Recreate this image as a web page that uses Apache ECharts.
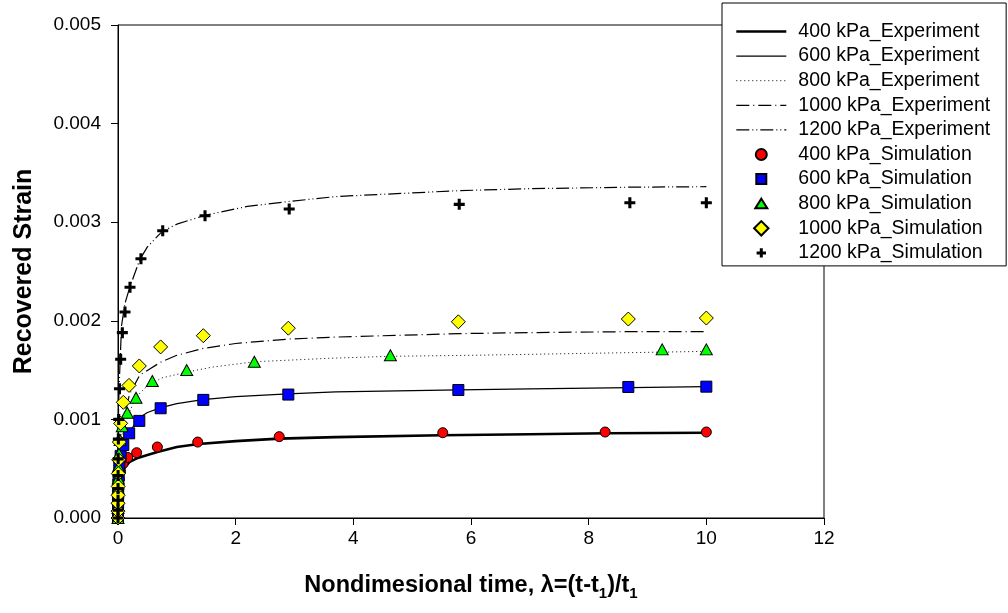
<!DOCTYPE html>
<html>
<head>
<meta charset="utf-8">
<script src="https://cdn.jsdelivr.net/npm/echarts@6/dist/echarts.min.js"></script>
<style>
html,body{margin:0;padding:0;background:#fff;}
#chart{width:1008px;height:613px;}
</style>
</head>
<body>
<div id="chart"></div>
<script>
// ---- Data ----
const xTicks = [0, 2, 4, 6, 8, 10, 12];
const yTicks = [0.000, 0.001, 0.002, 0.003, 0.004, 0.005];

const seriesNames = [
  '400 kPa_Experiment', '600 kPa_Experiment', '800 kPa_Experiment',
  '1000 kPa_Experiment', '1200 kPa_Experiment',
  '400 kPa_Simulation', '600 kPa_Simulation', '800 kPa_Simulation',
  '1000 kPa_Simulation', '1200 kPa_Simulation'
];

// Experiment curves
const exp400X = [0, 0.003, 0.01, 0.03, 0.06, 0.12, 0.2, 0.32, 0.5, 0.67, 1.0, 1.37, 2.0, 2.74, 3.7, 5.5, 7.0, 8.3, 10];
const exp400Y = [0, 0.00018, 0.00028, 0.00038, 0.00045, 0.00052, 0.00057, 0.000605, 0.00064, 0.00067, 0.00072, 0.00075, 0.00078, 0.000805, 0.00082, 0.00084, 0.00085, 0.00086, 0.000865];

const exp600X = [0, 0.003, 0.01, 0.03, 0.06, 0.1, 0.19, 0.37, 0.5, 0.73, 1.0, 1.44, 2.0, 2.89, 3.7, 5.8, 7.0, 8.7, 10];
const exp600Y = [0, 0.00025, 0.0004, 0.00055, 0.00066, 0.00075, 0.00087, 0.00102, 0.00107, 0.00112, 0.00116, 0.0012, 0.00123, 0.001258, 0.00128, 0.0013, 0.00131, 0.001322, 0.001332];

const exp800X = [0, 0.003, 0.01, 0.03, 0.06, 0.1, 0.18, 0.3, 0.46, 0.74, 1.17, 1.6, 2.33, 3.6, 4.63, 6, 8, 10];
const exp800Y = [0, 0.0003, 0.00048, 0.00065, 0.00078, 0.0009, 0.00105, 0.00122, 0.00132, 0.00142, 0.00148, 0.00153, 0.001585, 0.00162, 0.00164, 0.00165, 0.00167, 0.00169];

const exp1000X = [0, 0.003, 0.01, 0.03, 0.06, 0.1, 0.2, 0.37, 0.74, 1.0, 1.45, 2.0, 2.9, 3.7, 5.8, 7.0, 8.7, 10];
const exp1000Y = [0, 0.00033, 0.00053, 0.00074, 0.0009, 0.00104, 0.00126, 0.00145, 0.001585, 0.00165, 0.00172, 0.00177, 0.001815, 0.001835, 0.00187, 0.00188, 0.00189, 0.00189];

const exp1200X = [0, 0.002, 0.005, 0.01, 0.02, 0.03, 0.06, 0.12, 0.2, 0.37, 0.5, 0.74, 1.0, 1.48, 2.2, 2.9, 3.7, 5.8, 7.0, 8.7, 10];
const exp1200Y = [0, 0.0006, 0.0009, 0.00113, 0.00133, 0.0015, 0.00195, 0.00218, 0.00234, 0.00262, 0.00275, 0.0029, 0.00298, 0.00307, 0.00316, 0.00321, 0.00326, 0.00332, 0.00334, 0.003355, 0.00336];

// Simulation points
const sim400X = [0, 0.0007, 0.0013, 0.0027, 0.0054, 0.011, 0.0215, 0.043, 0.086, 0.165, 0.317, 0.669, 1.355, 2.74, 5.52, 8.28, 10];
const sim400Y = [0, 0.00007, 0.00013, 0.0002, 0.00026, 0.00033, 0.0004, 0.00047, 0.00055, 0.000614, 0.000662, 0.00072, 0.00077, 0.000825, 0.000865, 0.000872, 0.000872];

const sim600X = [0, 0.0007, 0.0014, 0.0028, 0.0056, 0.011, 0.022, 0.045, 0.09, 0.19, 0.362, 0.725, 1.45, 2.895, 5.785, 8.674, 10];
const sim600Y = [0, 0.00008, 0.00016, 0.00025, 0.00034, 0.00043, 0.00053, 0.00063, 0.00074, 0.000859, 0.000985, 0.001113, 0.001198, 0.001252, 0.001298, 0.001329, 0.001332];

const sim800X = [0, 0.0005, 0.001, 0.002, 0.0045, 0.009, 0.018, 0.036, 0.072, 0.158, 0.306, 0.583, 1.168, 2.317, 4.63, 9.25, 10];
const sim800Y = [0, 0.0001, 0.0002, 0.0003, 0.0004, 0.00052, 0.00065, 0.00079, 0.00093, 0.001068, 0.00122, 0.00139, 0.0015, 0.001585, 0.00165, 0.00171, 0.00171];

const sim1000X = [0, 0.00035, 0.0007, 0.0014, 0.0028, 0.0056, 0.011, 0.0225, 0.045, 0.09, 0.187, 0.362, 0.725, 1.45, 2.895, 5.785, 8.674, 10];
const sim1000Y = [0, 0.00007, 0.00015, 0.00023, 0.00032, 0.00045, 0.00059, 0.00077, 0.00096, 0.001173, 0.001345, 0.001542, 0.001735, 0.001849, 0.001925, 0.00199, 0.002018, 0.002028];

const sim1200X = [0, 0.0002, 0.0004, 0.0008, 0.0015, 0.003, 0.006, 0.012, 0.025, 0.045, 0.074, 0.119, 0.204, 0.39, 0.76, 1.479, 2.91, 5.8, 8.7, 10];
const sim1200Y = [0, 0.00008, 0.00018, 0.0003, 0.00043, 0.0006, 0.0008, 0.001, 0.00131, 0.00161, 0.00188, 0.00209, 0.00234, 0.00263, 0.002914, 0.003066, 0.003134, 0.003181, 0.003198, 0.003198];

// ---- Build chart ----
function pairs(xs, ys) { return xs.map((x, i) => [x, ys[i]]); }

const FONT = 'Arial, "Liberation Sans", sans-serif';
const PLUS = 'path://M3.6,0H6.4V3.6H10V6.4H6.4V10H3.6V6.4H0V3.6H3.6Z';

// legend icons drawn inside a 15x15 box (extent points keep the box size)
const ICON_CIRCLE = 'path://M0,0M15,15M13,7.5A5.5,5.5,0,1,1,2,7.5A5.5,5.5,0,1,1,13,7.5Z';
const ICON_SQUARE = 'path://M0,0M15,15M2.5,2.5H12.5V12.5H2.5Z';
const ICON_TRI = 'path://M0,0M15,15M7.5,2.5L13.5,12L1.5,12Z';
const ICON_DIAMOND = 'path://M0,0M15,15M7.5,0.3L14.7,7.5L7.5,14.7L0.3,7.5Z';
const ICON_PLUS = 'path://M0,0M15,15M6,2.8H9V6H12.2V9H9V12.2H6V9H2.8V6H6Z';

function expSeries(name, xs, ys, width, type) {
  return {
    name: name, type: 'line', data: pairs(xs, ys),
    symbol: 'none', smooth: false, silent: true, z: 2,
    itemStyle: { color: 'rgba(0,0,0,0)', borderWidth: 0 },
    lineStyle: { color: '#000', width: width, type: type }
  };
}
function simSeries(name, xs, ys, symbol, size, color, border) {
  return {
    name: name, type: 'scatter', data: pairs(xs, ys),
    symbol: symbol, symbolSize: size, symbolKeepAspect: true, z: 3,
    itemStyle: { color: color, borderColor: '#000', borderWidth: border, opacity: 1 }
  };
}

const expWidths = [2.6, 1.2, 1, 1.2, 1.2];
const expTypes = ['solid', 'solid', [1, 3], [13, 4, 1, 4], [13, 3, 1, 3, 1, 3]];
const legendIcons = [null, null, null, null, null, ICON_CIRCLE, ICON_SQUARE, ICON_TRI, ICON_DIAMOND, ICON_PLUS];
const legendData = seriesNames.map((n, i) => legendIcons[i]
  ? { name: n, icon: legendIcons[i] }
  : { name: n, itemStyle: { color: 'rgba(0,0,0,0)', borderWidth: 0, opacity: 0 },
      lineStyle: { color: '#000', width: expWidths[i], type: expTypes[i] } });

const chart = echarts.init(document.getElementById('chart'), null, { renderer: 'canvas' });
chart.setOption({
  animation: false,
  backgroundColor: '#fff',
  textStyle: { fontFamily: FONT },
  grid: { left: 118, right: 184, top: 25, bottom: 95, show: true, borderColor: '#000', borderWidth: 1, containLabel: false },
  xAxis: {
    type: 'value', min: xTicks[0], max: xTicks[xTicks.length - 1], interval: 2,
    axisLine: { show: true, onZero: false, lineStyle: { color: '#000', width: 1 } },
    axisTick: { show: true, inside: false, length: 7, lineStyle: { color: '#000' } },
    splitLine: { show: false },
    axisLabel: { color: '#000', fontSize: 19, fontFamily: FONT, margin: 11 },
    name: 'Nondimesional time, λ=(t-t{sub|1})/t{sub|1}',
    nameLocation: 'middle', nameGap: 52,
    nameTextStyle: {
      color: '#000', fontSize: 23.5, fontWeight: 'bold', fontFamily: FONT,
      rich: { sub: { fontSize: 15, fontWeight: 'bold', fontFamily: FONT, color: '#000', padding: [16, 0, 0, 0] } }
    }
  },
  yAxis: {
    type: 'value', min: yTicks[0], max: yTicks[yTicks.length - 1], interval: 0.001,
    axisLine: { show: true, onZero: false, lineStyle: { color: '#000', width: 1 } },
    axisTick: { show: true, inside: false, length: 7, lineStyle: { color: '#000' } },
    splitLine: { show: false },
    axisLabel: { color: '#000', fontSize: 19, fontFamily: FONT, margin: 17, formatter: v => v.toFixed(3) },
    name: 'Recovered Strain', nameLocation: 'middle', nameGap: 81, nameRotate: 90,
    nameTextStyle: { color: '#000', fontSize: 25, fontWeight: 'bold', fontFamily: FONT }
  },
  legend: {
    orient: 'vertical', left: 722, top: 3,
    backgroundColor: '#fff', borderColor: '#000', borderWidth: 1,
    padding: [18.5, 16, 3, 13], itemGap: 4.6, itemWidth: 50, itemHeight: 15,
    symbolKeepAspect: true,
    textStyle: { color: '#000', fontSize: 19.5, fontFamily: FONT, padding: [0, 0, 0, 7] },
    selectedMode: false, z: 10,
    data: legendData
  },
  series: [
    expSeries(seriesNames[0], exp400X, exp400Y, expWidths[0], expTypes[0]),
    expSeries(seriesNames[1], exp600X, exp600Y, expWidths[1], expTypes[1]),
    expSeries(seriesNames[2], exp800X, exp800Y, expWidths[2], expTypes[2]),
    expSeries(seriesNames[3], exp1000X, exp1000Y, expWidths[3], expTypes[3]),
    expSeries(seriesNames[4], exp1200X, exp1200Y, expWidths[4], expTypes[4]),
    simSeries(seriesNames[5], sim400X, sim400Y, 'circle', 10, '#ff0000', 1),
    simSeries(seriesNames[6], sim600X, sim600Y, 'rect', 11, '#0000ff', 1),
    simSeries(seriesNames[7], sim800X, sim800Y, 'triangle', [12, 11], '#00ff00', 1),
    simSeries(seriesNames[8], sim1000X, sim1000Y, 'diamond', 14, '#ffff00', 1),
    simSeries(seriesNames[9], sim1200X, sim1200Y, PLUS, 11, '#000', 0)
  ]
});
</script>
</body>
</html>
